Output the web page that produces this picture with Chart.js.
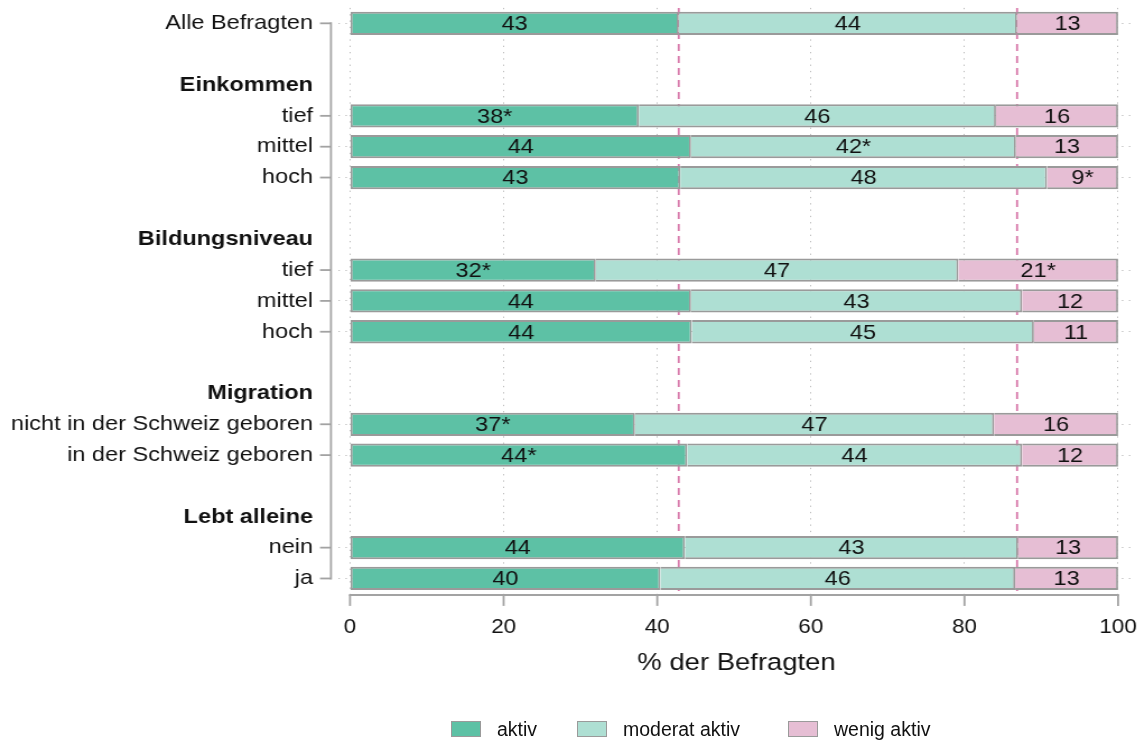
<!DOCTYPE html>
<html>
<head>
<meta charset="utf-8">
<script src="https://cdn.jsdelivr.net/npm/chart.js@4.4.0/dist/chart.umd.min.js"></script>
<style>
  body { margin: 0; background: #fff; }
  #wrap { position: absolute; left: 0; top: 0; width: 1022px; height: 744px; transform: scaleX(1.1204); transform-origin: 0 0; }
  #legend { position: absolute; left: 0; top: 0; font-family: "Liberation Sans", Arial, sans-serif; font-size: 19.5px; color: #111; }
  .item { position: absolute; top: 721px; height: 16px; line-height: 16px; white-space: nowrap; }
  .box { position: absolute; left: 0; top: 0; width: 30px; height: 16px; box-sizing: border-box; border: 1.5px solid #9a9a9a; }
  .txt { position: absolute; left: 46px; top: 0; }
</style>
</head>
<body>
<div id="wrap"><canvas id="chart" width="1022" height="744" style="width:1022px;height:744px"></canvas></div>
<div id="legend"></div>
<script>
// categories (blank strings are spacer rows)
const categories = ['Alle Befragten', '', 'Einkommen', 'tief', 'mittel', 'hoch', '',
  'Bildungsniveau', 'tief', 'mittel', 'hoch', '', 'Migration',
  'nicht in der Schweiz geboren', 'in der Schweiz geboren', '', 'Lebt alleine', 'nein', 'ja'];
const headerRows = [2, 7, 12, 16];

// series values (% der Befragten)
const aktiv   = [42.8, null, null, 37.6, 44.4, 43.0, null, null, 32.0, 44.4, 44.5, null, null, 37.1, 43.9, null, null, 43.6, 40.4];
const moderat = [44.05, null, null, 46.5, 42.3, 47.75, null, null, 47.2, 43.1, 44.55, null, null, 46.75, 43.6, null, null, 43.4, 46.2];
const wenig   = [13.15, null, null, 15.9, 13.3, 9.25, null, null, 20.8, 12.5, 10.95, null, null, 16.15, 12.5, null, null, 13.0, 13.4];

// printed bar labels
const aktivLabels   = ['43', '', '', '38*', '44', '43', '', '', '32*', '44', '44', '', '', '37*', '44*', '', '', '44', '40'];
const moderatLabels = ['44', '', '', '46', '42*', '48', '', '', '47', '43', '45', '', '', '47', '44', '', '', '43', '46'];
const wenigLabels   = ['13', '', '', '16', '13', '9*', '', '', '21*', '12', '11', '', '', '16', '12', '', '', '13', '13'];

const seriesNames = ['aktiv', 'moderat aktiv', 'wenig aktiv'];
const seriesColors = ['#5dc1a5', '#aedfd3', '#e6bed4'];

// reference lines (Alle Befragten, cumulative)
const refLines = [42.8, 86.85];
const xTicks = [0, 20, 40, 60, 80, 100];

const FONT = '"Liberation Sans", Arial, sans-serif';
const TEXT = '#111';
const AXIS = '#a3a3a3';
const DOTS = '#bdbdbd';

const hasBar = i => aktiv[i] !== null;

// value labels in the middle of each segment
const barLabels = {
  id: 'barLabels',
  afterDatasetsDraw(chart) {
    const ctx = chart.ctx;
    const all = [aktivLabels, moderatLabels, wenigLabels];
    ctx.save();
    ctx.font = '21px ' + FONT;
    ctx.fillStyle = TEXT;
    ctx.textAlign = 'center';
    ctx.textBaseline = 'middle';
    chart.data.datasets.forEach((ds, d) => {
      chart.getDatasetMeta(d).data.forEach((el, i) => {
        const t = all[d][i];
        if (!t) return;
        const p = el.getProps(['x', 'y', 'base'], true);
        ctx.fillText(t, (p.x + p.base) / 2, p.y + 1);
      });
    });
    ctx.restore();
  }
};

// dashed reference lines behind the bars
const refLinePlugin = {
  id: 'refLines',
  beforeDatasetsDraw(chart) {
    const {ctx, chartArea, scales} = chart;
    ctx.save();
    ctx.strokeStyle = '#d87aab';
    ctx.lineWidth = 1.8;
    ctx.setLineDash([7, 5]);
    refLines.forEach(v => {
      const x = scales.x.getPixelForValue(v);
      ctx.beginPath();
      ctx.moveTo(x, chartArea.top);
      ctx.lineTo(x, chartArea.bottom);
      ctx.stroke();
    });
    ctx.restore();
  }
};

// ggplot-like axis lines: bottom from 0 to 100, left bracket with ticks
const axisLines = {
  id: 'axisLines',
  afterDraw(chart) {
    const {ctx, chartArea, scales} = chart;
    ctx.save();
    ctx.strokeStyle = AXIS;
    ctx.setLineDash([]);
    // bottom
    const y0 = chartArea.bottom + 1;
    ctx.lineWidth = 2;
    ctx.beginPath();
    ctx.moveTo(scales.x.getPixelForValue(0) - 0.9, y0);
    ctx.lineTo(scales.x.getPixelForValue(100) + 0.9, y0);
    ctx.stroke();
    ctx.lineWidth = 1.8;
    xTicks.forEach(v => {
      const x = scales.x.getPixelForValue(v);
      ctx.beginPath();
      ctx.moveTo(x, y0);
      ctx.lineTo(x, y0 + 11);
      ctx.stroke();
    });
    // left
    const xl = 295.4;
    const first = scales.y.getPixelForValue(0);
    const last = scales.y.getPixelForValue(categories.length - 1);
    ctx.lineWidth = 1.8;
    ctx.beginPath();
    ctx.moveTo(xl, first - 1);
    ctx.lineTo(xl, last + 1);
    ctx.stroke();
    categories.forEach((c, i) => {
      if (!hasBar(i)) return;
      const y = scales.y.getPixelForValue(i);
      ctx.beginPath();
      ctx.moveTo(xl - 9.8, y);
      ctx.lineTo(xl, y);
      ctx.stroke();
    });
    ctx.restore();
  }
};

// no extra room for overhanging tick labels
function zeroPadding(s) {
  s.paddingTop = 0;
  s.paddingBottom = 0;
  s.paddingLeft = 0;
  s.paddingRight = 0;
}

function makeDataset(k, values) {
  return {
    label: seriesNames[k],
    data: values,
    backgroundColor: seriesColors[k],
    borderColor: '#9a9a9a',
    borderWidth: {top: 2, bottom: 2, right: 1.8, left: k === 0 ? 1.8 : 0},
    borderSkipped: false,
    barPercentage: 0.755,
    categoryPercentage: 1
  };
}

new Chart(document.getElementById('chart'), {
  type: 'bar',
  data: {
    labels: categories,
    datasets: [makeDataset(0, aktiv), makeDataset(1, moderat), makeDataset(2, wenig)]
  },
  plugins: [refLinePlugin, barLabels, axisLines],
  options: {
    indexAxis: 'y',
    responsive: false,
    animation: false,
    devicePixelRatio: 1,
    layout: { padding: { top: 7.9, right: 9, bottom: 60.1, left: 0 } },
    plugins: {
      legend: { display: false },
      tooltip: { enabled: false }
    },
    scales: {
      x: {
        stacked: true,
        min: -1.56,
        max: 102.2,
        afterBuildTicks: s => { s.ticks = xTicks.map(v => ({value: v})); },
        afterFit: s => { s.height = 90; zeroPadding(s); },
        grid: { color: DOTS, lineWidth: 1, drawTicks: false },
        border: { display: false, dash: [1.3, 5] },
        ticks: {
          padding: 22,
          color: TEXT,
          font: { family: FONT, size: 20 }
        },
        title: {
          display: true,
          text: '% der Befragten',
          color: TEXT,
          font: { family: FONT, size: 24.5 },
          padding: { top: 0, bottom: 6 }
        }
      },
      y: {
        stacked: true,
        afterFit: s => { s.width = 301.7; zeroPadding(s); },
        grid: {
          offset: false,
          drawTicks: false,
          lineWidth: 1,
          color: c => hasBar(c.index) ? DOTS : 'rgba(0,0,0,0)'
        },
        border: { display: false, dash: [1.3, 5] },
        ticks: {
          autoSkip: false,
          padding: 22.3,
          color: TEXT,
          font: c => ({ family: FONT, size: 21, weight: headerRows.includes(c.index) ? 'bold' : 'normal' })
        }
      }
    }
  }
});

// legend (drawn unstretched, like the reference)
const legendLeft = [451, 577, 788];
const legend = document.getElementById('legend');
seriesNames.forEach((name, k) => {
  const item = document.createElement('div');
  item.className = 'item';
  item.style.left = legendLeft[k] + 'px';
  item.innerHTML = '<span class="box" style="background:' + seriesColors[k] + '"></span><span class="txt">' + name + '</span>';
  legend.appendChild(item);
});
</script>
</body>
</html>
